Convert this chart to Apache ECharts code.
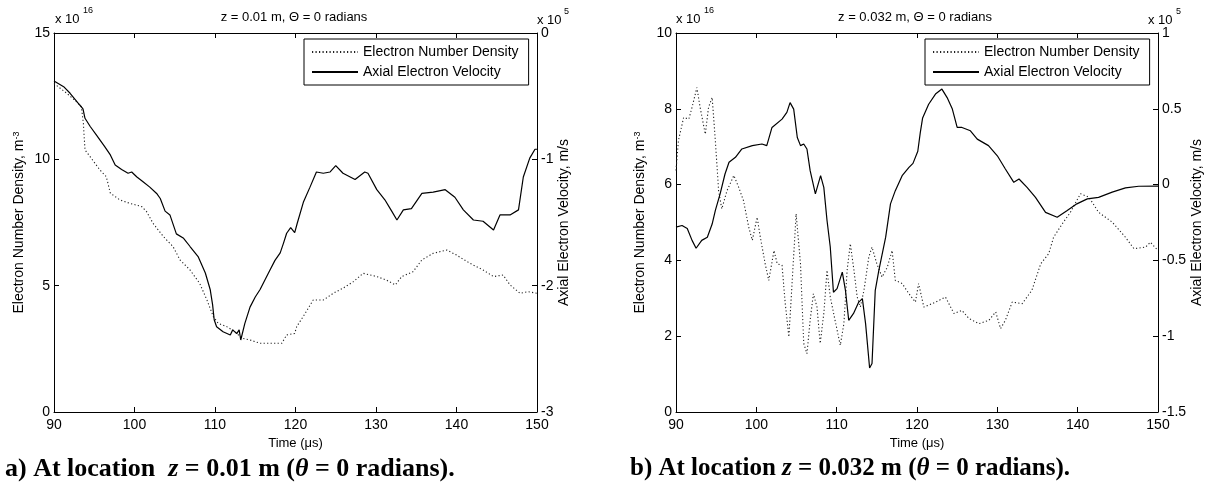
<!DOCTYPE html>
<html>
<head>
<meta charset="utf-8">
<script src="https://cdn.jsdelivr.net/npm/echarts@6/dist/echarts.min.js"></script>
<style>
html,body{margin:0;padding:0;background:#fff;}
#chart{width:1210px;height:489px;}
</style>
</head>
<body>
<div id="chart"></div>
<script>
// ---------- Tick labels ----------
const timeTicks = [90, 100, 110, 120, 130, 140, 150];
const densityTicksA = [0, 5, 10, 15];
const velocityTicksA = [-3, -2, -1, 0];
const densityTicksB = [0, 2, 4, 6, 8, 10];
const velocityTicksB = [-1.5, -1, -0.5, 0, 0.5, 1];

// ---------- Panel a: z = 0.01 m ----------
const timeDensityA = [90, 91.6, 92.8, 93.4, 93.65, 93.85, 94.5, 95.7, 96.5, 97.0, 98.2, 99.4, 100.9, 101.5, 102.3, 103.6, 104.8, 105.65, 106.9, 108.1, 109.0, 109.8, 110.4, 111.45, 112.5, 113.3, 114.35, 115.6, 116.8, 118.3, 118.9, 119.9, 120.15, 121.2, 122.2, 123.45, 124.7, 125.9, 127.2, 128.4, 130.1, 131.3, 132.4, 133.2, 134.6, 135.7, 137.1, 138.8, 140.0, 141.7, 143.3, 144.6, 145.8, 146.65, 147.9, 148.9, 150];
const densityA = [13.0, 12.61, 12.28, 12.08, 11.43, 10.37, 10.1, 9.58, 9.31, 8.66, 8.39, 8.26, 8.13, 7.93, 7.47, 6.94, 6.54, 6.02, 5.62, 5.09, 4.43, 3.77, 3.51, 3.38, 3.18, 2.92, 2.85, 2.72, 2.72, 2.72, 3.05, 3.11, 3.38, 3.9, 4.43, 4.43, 4.70, 4.90, 5.16, 5.49, 5.36, 5.22, 5.03, 5.36, 5.55, 6.02, 6.28, 6.41, 6.21, 5.88, 5.62, 5.36, 5.42, 5.03, 4.70, 4.76, 4.70];
const timeVelocityA = [90, 91.2, 92.0, 93.2, 93.6, 93.85, 94.5, 95.3, 96.3, 97.0, 97.6, 98.4, 99.2, 99.65, 100.3, 101.1, 101.9, 102.75, 103.2, 103.8, 104.4, 105.2, 106.1, 106.9, 107.9, 108.8, 109.4, 109.7, 109.9, 110.2, 111.0, 111.9, 112.2, 112.7, 113.0, 113.2, 113.7, 114.35, 115.0, 115.6, 116.2, 116.8, 117.45, 118.1, 118.5, 118.9, 119.4, 119.9, 120.2, 121.0, 121.8, 122.6, 123.45, 124.3, 125.0, 125.9, 127.4, 128.6, 129.0, 130.1, 131.1, 131.95, 132.6, 133.4, 134.4, 135.7, 137.1, 138.6, 139.8, 140.85, 142.1, 143.3, 144.6, 145.4, 146.65, 147.7, 148.3, 149.1, 149.75, 150];
const velocityA = [-0.38, -0.425, -0.477, -0.57, -0.60, -0.675, -0.74, -0.81, -0.90, -0.965, -1.045, -1.08, -1.11, -1.10, -1.14, -1.18, -1.22, -1.27, -1.31, -1.41, -1.44, -1.59, -1.625, -1.69, -1.77, -1.90, -2.03, -2.15, -2.27, -2.325, -2.365, -2.39, -2.35, -2.38, -2.35, -2.43, -2.30, -2.17, -2.09, -2.03, -1.955, -1.88, -1.80, -1.74, -1.665, -1.585, -1.54, -1.58, -1.51, -1.335, -1.22, -1.10, -1.11, -1.10, -1.05, -1.11, -1.16, -1.10, -1.11, -1.24, -1.32, -1.41, -1.48, -1.40, -1.39, -1.27, -1.26, -1.24, -1.30, -1.40, -1.48, -1.49, -1.56, -1.44, -1.44, -1.40, -1.14, -0.99, -0.92, -0.92];

// ---------- Panel b: z = 0.032 m ----------
const timeDensityB = [90, 90.3, 90.95, 91.6, 92.0, 92.6, 93.0, 93.65, 94.05, 94.5, 94.9, 95.3, 95.7, 96.35, 97.2, 97.8, 98.4, 99.05, 99.5, 100.1, 100.5, 101.1, 101.55, 102.2, 102.6, 103.2, 103.6, 104.05, 104.45, 104.95, 105.5, 105.9, 106.3, 106.7, 107.1, 107.55, 107.95, 108.4, 108.8, 109.2, 109.8, 110.45, 110.9, 111.3, 111.7, 112.15, 112.55, 112.95, 113.4, 114.0, 114.4, 115.0, 115.65, 116.3, 116.9, 117.3, 118.15, 119.0, 119.8, 120.2, 120.85, 121.9, 123.55, 124.6, 125.6, 126.45, 127.7, 128.95, 129.8, 130.4, 131.0, 131.85, 133.1, 134.3, 135.4, 136.4, 137.0, 138.1, 139.1, 140.35, 141.4, 142.6, 144.3, 145.95, 147.0, 148.45, 149.05, 150];
const densityB = [6.37, 7.16, 7.77, 7.73, 8.04, 8.56, 8.04, 7.33, 8.04, 8.30, 7.16, 5.84, 5.36, 5.84, 6.24, 5.93, 5.58, 4.88, 4.53, 5.14, 4.61, 3.91, 3.47, 4.26, 3.91, 3.87, 2.86, 1.98, 3.39, 5.23, 3.91, 1.81, 1.54, 2.42, 3.12, 2.77, 1.81, 2.60, 3.74, 3.04, 2.42, 1.76, 2.33, 3.74, 4.44, 3.74, 3.04, 2.77, 3.21, 4.09, 4.35, 3.91, 3.56, 3.82, 4.26, 3.47, 3.39, 3.12, 2.90, 3.39, 2.77, 2.86, 3.03, 2.60, 2.68, 2.47, 2.33, 2.42, 2.64, 2.20, 2.42, 2.90, 2.86, 3.21, 3.91, 4.18, 4.61, 4.97, 5.27, 5.76, 5.67, 5.27, 5.01, 4.61, 4.31, 4.35, 4.48, 4.26];
const timeVelocityB = [90, 90.75, 91.4, 92.0, 92.5, 93.2, 93.9, 94.5, 94.9, 95.5, 96.1, 96.6, 97.4, 98.2, 99.5, 100.7, 101.3, 101.95, 103.2, 103.8, 104.2, 104.65, 105.1, 105.5, 105.9, 106.3, 106.7, 107.35, 108.0, 108.4, 108.8, 109.2, 109.6, 110.05, 110.7, 111.1, 111.5, 112.1, 112.75, 113.2, 113.6, 114.1, 114.4, 114.8, 115.25, 116.1, 116.7, 117.3, 118.15, 119.0, 119.5, 120.1, 120.4, 120.7, 121.45, 122.3, 123.1, 123.75, 124.4, 125.0, 125.6, 126.65, 127.5, 128.9, 130.0, 131.0, 132.05, 132.7, 133.7, 134.75, 136.0, 137.45, 138.7, 139.9, 141.2, 142.6, 144.3, 145.95, 147.6, 150];
const velocityB = [-0.28, -0.27, -0.29, -0.368, -0.42, -0.368, -0.347, -0.26, -0.17, -0.06, 0.07, 0.147, 0.18, 0.235, 0.257, 0.268, 0.257, 0.377, 0.432, 0.476, 0.541, 0.498, 0.311, 0.257, 0.268, 0.235, 0.092, -0.061, 0.059, -0.018, -0.237, -0.41, -0.71, -0.686, -0.577, -0.70, -0.895, -0.85, -0.775, -0.752, -0.917, -1.21, -1.18, -0.70, -0.566, -0.347, -0.127, -0.04, 0.059, 0.114, 0.14, 0.22, 0.34, 0.44, 0.53, 0.597, 0.63, 0.574, 0.498, 0.377, 0.377, 0.355, 0.30, 0.257, 0.19, 0.103, 0.015, 0.037, -0.018, -0.084, -0.183, -0.215, -0.171, -0.127, -0.094, -0.084, -0.05, -0.022, -0.011, -0.01];

const NAME_DEN = 'Electron Number Density';
const NAME_VEL = 'Axial Electron Velocity';

function zip(xs, ys) { return xs.map((x, i) => [x, ys[i]]); }

const FONT = '"Liberation Sans", Arial, sans-serif';
const SERIF = '"Liberation Serif", "Times New Roman", serif';
const TXT = 14;

function xAxisPair(grid) {
  const base = {
    type: 'value', gridIndex: grid,
    min: timeTicks[0], max: timeTicks[timeTicks.length - 1], interval: timeTicks[1] - timeTicks[0],
    axisLine: { show: true, onZero: false, lineStyle: { color: '#000', width: 1 } },
    axisTick: { show: true, inside: true, length: 5, lineStyle: { color: '#000' } },
    splitLine: { show: false }
  };
  return [
    Object.assign({}, base, {
      position: 'bottom',
      axisLabel: { show: true, color: '#000', fontSize: TXT, fontFamily: FONT, margin: 6, showMinLabel: true, showMaxLabel: true },
      name: 'Time (μs)', nameLocation: 'middle', nameGap: 25,
      nameTextStyle: { color: '#000', fontSize: 13, fontFamily: FONT }
    }),
    Object.assign({}, base, { position: 'top', axisLabel: { show: false } })
  ];
}

function yAxis(grid, ticks, pos, name, gap) {
  return {
    type: 'value', gridIndex: grid, position: pos,
    min: ticks[0], max: ticks[ticks.length - 1], interval: ticks[1] - ticks[0],
    axisLine: { show: true, onZero: false, lineStyle: { color: '#000', width: 1 } },
    axisTick: { show: true, inside: true, length: 5, lineStyle: { color: '#000' } },
    axisLabel: { show: true, color: '#000', fontSize: TXT, fontFamily: FONT, margin: 4, showMinLabel: true, showMaxLabel: true },
    splitLine: { show: false },
    name: name, nameLocation: 'middle', nameGap: gap, nameRotate: 90,
    nameTextStyle: {
      color: '#000', fontSize: 14, fontFamily: FONT,
      rich: { sup: { fontSize: 9, fontFamily: FONT, color: '#000', verticalAlign: 'top' } }
    }
  };
}

const denName = 'Electron Number Density, m{sup|-3}';
const velName = 'Axial Electron Velocity, m/s';

const xa = xAxisPair(0), xb = xAxisPair(1);

function legend(left) {
  return {
    left: left, top: 39, orient: 'vertical',
    data: [NAME_DEN, NAME_VEL],
    backgroundColor: '#fff', borderColor: '#000', borderWidth: 1, borderRadius: 0,
    padding: [6, 10, 6, 7], itemGap: 6, itemWidth: 46, itemHeight: 14,
    selectedMode: false,
    itemStyle: { color: 'rgba(0,0,0,0)', borderWidth: 0, opacity: 0 },
    textStyle: { color: '#000', fontSize: 14, fontFamily: FONT }
  };
}

const dotted = { color: '#222', width: 1.1, type: [1.2, 2.3] };
const solid = { color: '#000', width: 1.2, type: 'solid' };

function txt(x, y, s, size, align, va) {
  return { type: 'text', x: x, y: y, silent: true,
    style: { text: s, font: size + 'px ' + FONT, fill: '#000', align: align || 'left', verticalAlign: va || 'middle' } };
}
function caption(x, y, parts, size) {
  return { type: 'text', x: x, y: y, silent: true,
    style: { text: parts, fill: '#000', align: 'left', verticalAlign: 'middle',
      rich: {
        b: { font: 'bold ' + size + 'px ' + SERIF, fill: '#000' },
        i: { font: 'italic bold ' + size + 'px ' + SERIF, fill: '#000' }
      } } };
}

const option = {
  animation: false,
  backgroundColor: '#fff',
  grid: [
    { left: 54, top: 33, width: 483, height: 379, containLabel: false, outerBoundsMode: 'none' },
    { left: 676, top: 33, width: 482, height: 379, containLabel: false, outerBoundsMode: 'none' }
  ],
  xAxis: [xa[0], xa[1], xb[0], xb[1]],
  yAxis: [
    yAxis(0, densityTicksA, 'left', denName, 28),
    yAxis(0, velocityTicksA, 'right', velName, 19),
    yAxis(1, densityTicksB, 'left', denName, 29),
    yAxis(1, velocityTicksB, 'right', velName, 29)
  ],
  legend: [legend(304), legend(925)],
  series: [
    { name: NAME_DEN, type: 'line', xAxisIndex: 0, yAxisIndex: 0, data: zip(timeDensityA, densityA), symbol: 'none', showSymbol: false, lineStyle: dotted, itemStyle: { color: '#222' } },
    { name: NAME_VEL, type: 'line', xAxisIndex: 0, yAxisIndex: 1, data: zip(timeVelocityA, velocityA), symbol: 'none', showSymbol: false, lineStyle: solid, itemStyle: { color: '#000' } },
    { name: NAME_DEN, type: 'line', xAxisIndex: 2, yAxisIndex: 2, data: zip(timeDensityB, densityB), symbol: 'none', showSymbol: false, lineStyle: dotted, itemStyle: { color: '#222' } },
    { name: NAME_VEL, type: 'line', xAxisIndex: 2, yAxisIndex: 3, data: zip(timeVelocityB, velocityB), symbol: 'none', showSymbol: false, lineStyle: solid, itemStyle: { color: '#000' } }
  ],
  graphic: [
    txt(294, 17, 'z = 0.01 m, Θ = 0 radians', 13, 'center'),
    txt(915, 17, 'z = 0.032 m, Θ = 0 radians', 13, 'center'),
    txt(55, 19, 'x 10', 13), txt(83, 11, '16', 9),
    txt(676, 19, 'x 10', 13), txt(704, 11, '16', 9),
    txt(537, 20, 'x 10', 13), txt(564, 12, '5', 9),
    txt(1148, 20, 'x 10', 13), txt(1176, 12, '5', 9),
    caption(5, 469, '{b|a) At location  }{i|z}{b| = 0.01 m (}{i|θ}{b| = 0 radians).}', 26),
    caption(630, 469, '{b|b) At location }{i|z}{b| = 0.032 m (}{i|θ}{b| = 0 radians).}', 25)
  ]
};

const chart = echarts.init(document.getElementById('chart'), null, { renderer: 'canvas' });
chart.setOption(option);
</script>
</body>
</html>
